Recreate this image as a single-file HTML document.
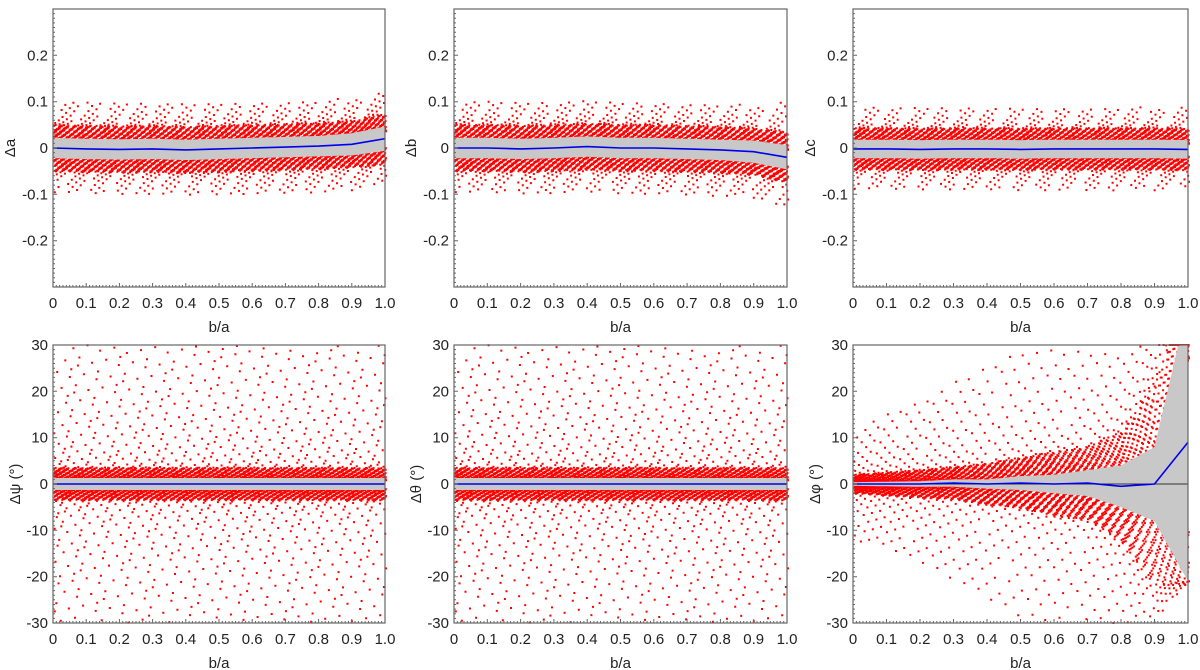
<!DOCTYPE html>
<html><head><meta charset="utf-8">
<style>
html,body{margin:0;padding:0;background:#fff;}
svg{display:block;font-family:"Liberation Sans",sans-serif;}
</style></head>
<body>
<svg id="chart" width="1200" height="670" viewBox="0 0 1200 670" xmlns="http://www.w3.org/2000/svg"></svg>
<script>
// ---- data ----
const xCats = [0,0.1,0.2,0.3,0.4,0.5,0.6,0.7,0.8,0.9,1.0];
const xTickLabels = ["0","0.1","0.2","0.3","0.4","0.5","0.6","0.7","0.8","0.9","1.0"];
const topYTicks = [0.2,0.1,0,-0.1,-0.2];
const topYLabels = ["0.2","0.1","0","-0.1","-0.2"];
const botYTicks = [30,20,10,0,-10,-20,-30];
const botYLabels = ["30","20","10","0","-10","-20","-30"];
const titles = ["Δa","Δb","Δc","Δψ (°)","Δθ (°)","Δφ (°)"];
// mean (blue line)
const meanA = [0,-0.002,-0.003,-0.002,-0.004,-0.002,0,0.002,0.004,0.008,0.02];
const meanB = [0,0,-0.002,0,0.003,0,0,-0.002,-0.004,-0.008,-0.02];
const meanC = [-0.002,-0.002,-0.003,-0.002,-0.002,-0.003,-0.002,-0.002,-0.002,-0.002,-0.003];
const meanPsi = [0,0,0,0,0,0,0,0,0,0,0];
const meanTheta = [0,0,0,0,0,0,0,0,0,0,0];
const meanPhi = [0,0,0,0.2,0,0.2,0,0.2,-0.5,0,9];
// gray band half width (std)
const sdA = [0.022,0.022,0.022,0.022,0.022,0.022,0.022,0.022,0.022,0.024,0.026];
const sdB = [0.022,0.022,0.022,0.022,0.022,0.022,0.022,0.022,0.022,0.024,0.026];
const sdC = [0.02,0.02,0.02,0.02,0.02,0.02,0.02,0.02,0.02,0.02,0.02];
const sdPsi = [1.3,1.3,1.3,1.3,1.3,1.3,1.3,1.3,1.3,1.3,1.3];
const sdTheta = [1.3,1.3,1.3,1.3,1.3,1.3,1.3,1.3,1.3,1.3,1.3];
const sdPhi = [0.4,0.5,0.6,0.8,1,1.5,2,2.8,4.5,8,30];
// dense red cloud half width
const denseA = [0.05,0.05,0.05,0.05,0.05,0.05,0.05,0.05,0.05,0.05,0.055];
const denseB = [0.05,0.05,0.05,0.05,0.05,0.05,0.05,0.05,0.05,0.05,0.055];
const denseC = [0.045,0.045,0.045,0.045,0.045,0.045,0.045,0.045,0.045,0.045,0.045];
const densePsi = [3.5,3.5,3.5,3.5,3.5,3.5,3.5,3.5,3.5,3.5,3.5];
const denseTheta = [3.5,3.5,3.5,3.5,3.5,3.5,3.5,3.5,3.5,3.5,3.5];
const densePhi = [2,2.5,3,3.5,4.5,5.5,7,8,12,22,30];
// sparse outlier extent
const outerA = [0.1,0.1,0.1,0.1,0.1,0.1,0.1,0.1,0.1,0.1,0.1];
const outerB = [0.1,0.1,0.1,0.1,0.1,0.1,0.1,0.1,0.1,0.1,0.12];
const outerC = [0.09,0.09,0.09,0.09,0.09,0.09,0.09,0.09,0.09,0.09,0.09];
const outerPsi = [30,30,30,30,30,30,30,30,30,30,30];
const outerTheta = [30,30,30,30,30,30,30,30,30,30,30];
const outerPhi = [12,15,18,22,26,30,30,30,30,30,30];
const sparseN = [450,450,400,900,900,600];

const panels = [
 {x0:53,x1:385,y0:9,y1:287,ymin:-0.3,ymax:0.3,mean:meanA,sd:sdA,dense:denseA,outer:outerA,ticks:topYTicks,labels:topYLabels,minor:0.01,zero:false},
 {x0:454,x1:787,y0:9,y1:287,ymin:-0.3,ymax:0.3,mean:meanB,sd:sdB,dense:denseB,outer:outerB,ticks:topYTicks,labels:topYLabels,minor:0.01,zero:false},
 {x0:853,x1:1188,y0:9,y1:287,ymin:-0.3,ymax:0.3,mean:meanC,sd:sdC,dense:denseC,outer:outerC,ticks:topYTicks,labels:topYLabels,minor:0.01,zero:false},
 {x0:53,x1:385,y0:345,y1:623,ymin:-30,ymax:30,mean:meanPsi,sd:sdPsi,dense:densePsi,outer:outerPsi,ticks:botYTicks,labels:botYLabels,minor:1,zero:true},
 {x0:454,x1:787,y0:345,y1:623,ymin:-30,ymax:30,mean:meanTheta,sd:sdTheta,dense:denseTheta,outer:outerTheta,ticks:botYTicks,labels:botYLabels,minor:1,zero:true},
 {x0:853,x1:1188,y0:345,y1:623,ymin:-30,ymax:30,mean:meanPhi,sd:sdPhi,dense:densePhi,outer:outerPhi,ticks:botYTicks,labels:botYLabels,minor:1,zero:true}
];
const NS="http://www.w3.org/2000/svg";
const svg=document.getElementById('chart');
function mk(tag,attrs,parent){const e=document.createElementNS(NS,tag);for(const k in attrs)e.setAttribute(k,attrs[k]);(parent||svg).appendChild(e);return e;}
function interp(arr,x){const t=Math.max(0,Math.min(1,x))*10;const i=Math.min(9,Math.floor(t));const f=t-i;return arr[i]*(1-f)+arr[i+1]*f;}
function frac(v){return v-Math.floor(v);}
const A1=0.7548776662466927, A2=0.5698402909980532;

panels.forEach((p,pi)=>{
  const g=mk('g',{});
  
  
  const sx=v=>p.x0+(v-xCats[0])/(xCats[xCats.length-1]-xCats[0])*(p.x1-p.x0);
  const sy=v=>p.y1-(v-p.ymin)/(p.ymax-p.ymin)*(p.y1-p.y0);
  const clamp=v=>Math.max(p.ymin,Math.min(p.ymax,v));
  let d='';
  const denseN=3400;
  for(let k=1;k<=denseN;k++){
    const x=frac(0.5+k*A1);
    const v=2*frac(0.5+k*A2)-1;
    const s=v<0?-1:1, u=Math.abs(v);
    const m=interp(p.mean,x),sd=interp(p.sd,x),dn=interp(p.dense,x);
    const lo=sd*0.6;
    const y=clamp(m+s*(lo+(dn-lo)*Math.pow(u,1.3)));
    d+='M'+sx(x).toFixed(1)+' '+(sy(y)-1).toFixed(1)+'h2v2h-2z';
  }
  for(let k=1;k<=sparseN[pi];k++){
    const x=frac(0.2+k*A1);
    const v=2*frac(0.7+k*A2)-1;
    const s=v<0?-1:1, u=Math.abs(v);
    const m=interp(p.mean,x),dn=interp(p.dense,x),ot=interp(p.outer,x);
    const y=clamp(m+s*(dn+(Math.max(ot,dn)-dn)*Math.pow(u,1.6)));
    d+='M'+sx(x).toFixed(1)+' '+(sy(y)-1).toFixed(1)+'h2v2h-2z';
  }
  const sc=mk('path',{d:d,fill:'#ff0000'},g);
  
  
  let top=[],bot=[];
  for(let i=0;i<=100;i++){const x=i/100;const m=interp(p.mean,x),sd=interp(p.sd,x);top.push(sx(x).toFixed(1)+','+sy(clamp(m+sd)).toFixed(1));bot.unshift(sx(x).toFixed(1)+','+sy(clamp(m-sd)).toFixed(1));}
  const band=mk('polygon',{points:top.concat(bot).join(' '),fill:'#c8c8c8'},g);
  
  
  if(p.zero){const z=mk('line',{x1:p.x0,x2:p.x1,y1:sy(0),y2:sy(0),stroke:'#333','stroke-width':1},g);
    
    }
  const pts=xCats.map((x,i)=>sx(x).toFixed(1)+','+sy(p.mean[i]).toFixed(1)).join(' ');
  const ml=mk('polyline',{points:pts,fill:'none',stroke:'#0000ee','stroke-width':1.6},g);
  
  
  const fr=mk('rect',{x:p.x0,y:p.y0,width:p.x1-p.x0,height:p.y1-p.y0,fill:'none',stroke:'#666','stroke-width':1.2},g);
  
  
  let td='';
  for(let i=0;i<=100;i++){const x=sx(i/100);td+='M'+x.toFixed(1)+' '+p.y1+'v-'+(i%10?2:4);}
  const nY=Math.round((p.ymax-p.ymin)/p.minor);
  for(let i=0;i<=nY;i++){const y=sy(p.ymin+i*p.minor);td+='M'+p.x0+' '+y.toFixed(1)+'h'+(i%10?2:4);}
  mk('path',{d:td,stroke:'#666','stroke-width':1,fill:'none'},g);
  xCats.forEach((x,i)=>{const t=mk('text',{x:sx(x),y:p.y1+21,'text-anchor':'middle','font-size':15,fill:'#222'},g);t.textContent=xTickLabels[i];
    
    });
  const xt=mk('text',{x:(p.x0+p.x1)/2,y:p.y1+45,'text-anchor':'middle','font-size':15,fill:'#222'},g);xt.textContent='b/a';
  
  
  p.ticks.forEach((v,i)=>{const t=mk('text',{x:p.x0-5,y:sy(v)+5,'text-anchor':'end','font-size':15,fill:'#222'},g);t.textContent=p.labels[i];
    
    });
  const yx=p.x0-(p.zero?33:38), yy=(p.y0+p.y1)/2;
  const yt=mk('text',{x:yx,y:yy,'text-anchor':'middle','font-size':15,fill:'#222',transform:'rotate(-90 '+yx+' '+yy+')'},g);yt.textContent=titles[pi];
  
  
});
</script>
</body></html>
